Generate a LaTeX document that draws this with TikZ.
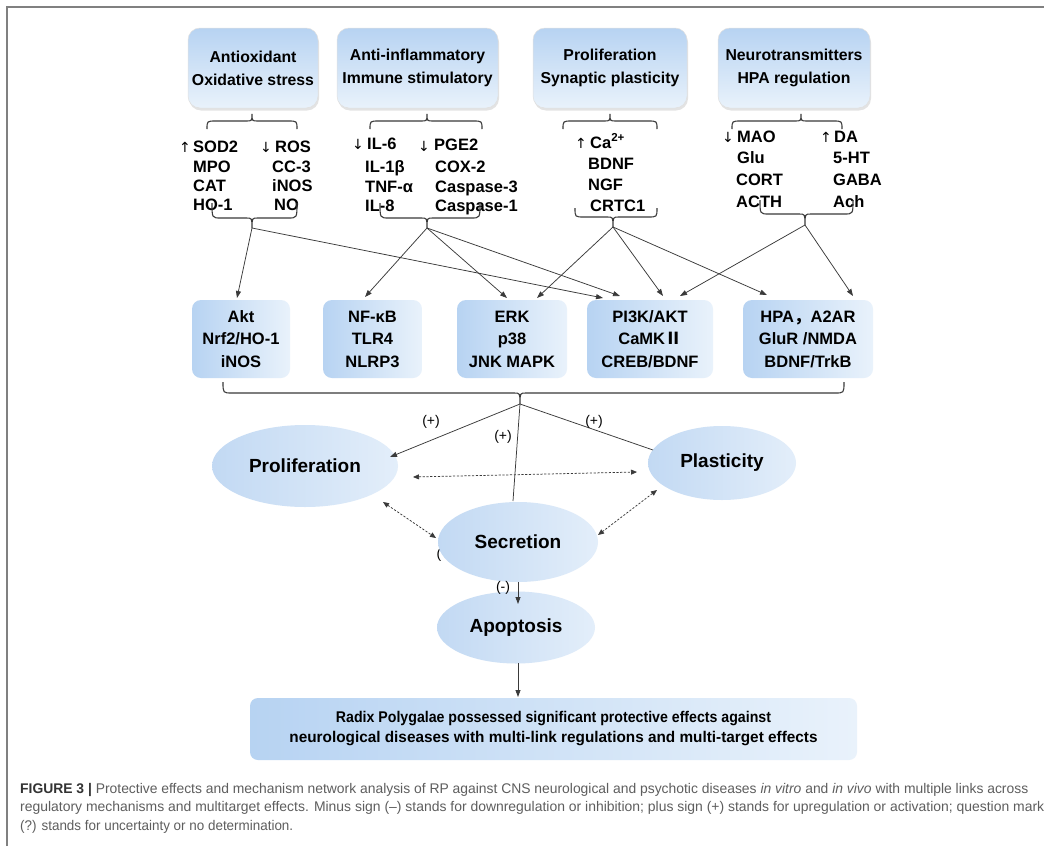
\documentclass[tikz,border=0pt]{standalone}
\usepackage{fontspec}
\usepackage{graphicx}
\setmainfont{Liberation Sans}
\newfontfamily\cjk{Noto Sans CJK SC}
\newfontfamily\dvs{DejaVu Sans}
\usetikzlibrary{arrows.meta,shadows,shapes.geometric}
\definecolor{bxblue}{HTML}{B7D3F2}
\definecolor{bxpale}{HTML}{E9F2FB}
\definecolor{elblue}{HTML}{C2D9F3}
\definecolor{elpale}{HTML}{E3EEFA}
\definecolor{lnc}{HTML}{3A3A3A}
\definecolor{frc}{HTML}{808080}
\definecolor{capc}{HTML}{5E5E5E}
% brace: x1 x2 xtip yEnd yBar yTip
\newcommand\mybrace[6]{%
  \draw[brc] (#1,#4) .. controls (#1,#5) .. (#1+9,#5) -- (#3-6,#5)
     .. controls (#3,#5) .. (#3,#6) .. controls (#3,#5) .. (#3+6,#5)
     -- (#2-9,#5) .. controls (#2,#5) .. (#2,#4);}
\begin{document}
\begin{tikzpicture}[x=1pt,y=-1pt,
 topbox/.style={rounded corners=12pt,top color=bxblue,bottom color=bxpale,draw=black!12,line width=0.5pt,
   drop shadow={opacity=0.22,shadow xshift=1pt,shadow yshift=-2.5pt},
   minimum height=80pt,inner sep=0pt,align=center,font=\fontsize{15.8}{23}\selectfont\bfseries},
 midbox/.style={rounded corners=9pt,left color=bxblue,right color=bxpale,draw=none,
   minimum height=78pt,inner sep=0pt,align=center,font=\fontsize{16.5}{22.5}\selectfont\bfseries},
 botbox/.style={rounded corners=8pt,left color=bxblue,right color=bxpale,draw=none,
   minimum width=607pt,minimum height=62pt,inner sep=0pt,align=center,font=\fontsize{15.5}{20}\selectfont\bfseries},
 ell/.style={ellipse,left color=elblue,right color=elpale,draw=none,inner sep=0pt,font=\fontsize{19}{23}\selectfont\bfseries},
 lst/.style={inner sep=0pt,anchor=base west,font=\fontsize{16.5}{19}\selectfont\bfseries},
 updn/.style={inner sep=0pt,anchor=base,font=\dvs\fontsize{14}{19}\selectfont},
 brc/.style={draw=lnc,line width=1.1pt},
 arr/.style={draw=lnc,line width=0.75pt,-{Triangle[length=7pt,width=5pt]}},
 pln/.style={draw=lnc,line width=0.75pt},
 dsh/.style={draw=lnc,line width=0.75pt,dash pattern=on 2.2pt off 1.6pt,{Triangle[length=6pt,width=5pt]}-{Triangle[length=6pt,width=5pt]}},
 sgn/.style={inner sep=0pt,font=\fontsize{14}{16}\selectfont},
 captxt/.style={inner sep=0pt,anchor=base west,font=\fontsize{14}{15}\selectfont,text=capc},
]
\useasboundingbox[fill=white] (0,0) rectangle (1044,846);
\draw[frc,line width=1.5pt] (7,846) -- (7,7) -- (1044,7);

% top boxes
\node[topbox,minimum width=130pt] (t1) at (253,68) {Antioxidant\\Oxidative stress};
\node[topbox,minimum width=161pt] (t2) at (417.5,68) {Anti-inflammatory\\Immune stimulatory};
\node[topbox,minimum width=154pt] (t3) at (610,68) {Proliferation\\Synaptic plasticity};
\node[topbox,minimum width=152pt] (t4) at (794,68) {Neurotransmitters\\HPA regulation};

% braces under top boxes
\mybrace{207}{297}{252}{129}{121}{114}
\mybrace{370}{482}{427}{129}{121}{114}
\mybrace{563}{657}{610}{129}{121}{114}
\mybrace{732}{842}{801}{129}{121}{114}

% column 1
\node[updn] (a1) at (185,152) {↑};
\node[lst] (l11) at (193,152) {SOD2};
\node[lst] (l12) at (193,172) {MPO};
\node[lst] (l13) at (193,191.5) {CAT};
\node[lst] (l14) at (193,210) {HO-1};
\node[updn] (a2) at (266,152) {↓};
\node[lst] (l15) at (275,152) {ROS};
\node[lst] (l16) at (272,172) {CC-3};
\node[lst] (l17) at (272,191.5) {iNOS};
\node[lst] (l18) at (274,210) {NO};
% column 2
\node[updn] (a3) at (358,149) {↓};
\node[lst] (l21) at (367,149) {IL-6};
\node[lst] (l22) at (365,172) {IL-1β};
\node[lst] (l23) at (365,192) {TNF-α};
\node[lst] (l24) at (365,211.5) {IL-8};
\node[updn] (a4) at (424,151) {↓};
\node[lst] (l25) at (434,150) {PGE2};
\node[lst] (l26) at (435,172) {COX-2};
\node[lst] (l27) at (435,192) {Caspase-3};
\node[lst] (l28) at (435,211.5) {Caspase-1};
% column 3
\node[updn] (a5) at (581,148) {↑};
\node[lst] (l31) at (590,148) {Ca\textsuperscript{2+}};
\node[lst] (l32) at (588,169) {BDNF};
\node[lst] (l33) at (588,190) {NGF};
\node[lst] (l34) at (590,211.5) {CRTC1};
% column 4
\node[updn] (a6) at (728,142) {↓};
\node[lst] (l41) at (737,142) {MAO};
\node[lst] (l42) at (737,163) {Glu};
\node[lst] (l43) at (736,185) {CORT};
\node[lst] (l44) at (736,207) {ACTH};
\node[updn] (a7) at (826,142) {↑};
\node[lst] (l45) at (834,142) {DA};
\node[lst] (l46) at (833,163) {5-HT};
\node[lst] (l47) at (833,185) {GABA};
\node[lst] (l48) at (833,207) {Ach};

% braces under lists
\mybrace{212}{297}{252}{203}{218}{228}
\mybrace{380}{480}{427}{203}{218}{228}
\mybrace{575}{657}{613}{208}{217}{227}
\mybrace{760}{853}{805}{200}{214}{225}
\coordinate (T1) at (252,228);
\coordinate (T2) at (427,228);
\coordinate (T3) at (613,227);
\coordinate (T4) at (805,225);

% middle boxes
\node[midbox,minimum width=98pt] (m1) at (241,339) {Akt\\Nrf2/HO-1\\iNOS};
\node[midbox,minimum width=99pt] (m2) at (372.5,339) {NF-κB\\TLR4\\NLRP3};
\node[midbox,minimum width=110pt] (m3) at (512,339) {ERK\\p38\\JNK MAPK};
\node[midbox,minimum width=126pt] (m4) at (650,339) {PI3K/AKT\\CaMK{\cjk Ⅱ}\\CREB/BDNF};
\node[midbox,minimum width=130pt] (m5) at (808,339) {HPA{\cjk ，}A2AR\\GluR /NMDA\\BDNF/TrkB};

\coordinate (e11) at (237,298);
\coordinate (e14) at (603,298);
\coordinate (e22) at (365,297);
\coordinate (e23) at (507,298);
\coordinate (e24) at (620,296);
\coordinate (e33) at (537,298);
\coordinate (e34) at (663,296);
\coordinate (e35) at (767,295);
\coordinate (e44) at (680,296);
\coordinate (e45) at (853,296);
\draw[arr] (T1) -- (e11);
\draw[arr] (T1) -- (e14);
\draw[arr] (T2) -- (e22);
\draw[arr] (T2) -- (e23);
\draw[arr] (T2) -- (e24);
\draw[arr] (T3) -- (e33);
\draw[arr] (T3) -- (e34);
\draw[arr] (T3) -- (e35);
\draw[arr] (T4) -- (e44);
\draw[arr] (T4) -- (e45);

% big brace
\mybrace{223}{844}{520}{382}{393}{404}
\coordinate (BT) at (520,404);

% ellipses
\node[ell,minimum width=186pt,minimum height=82pt] (pro) at (305,466) {Proliferation};
\node[ell,minimum width=148pt,minimum height=74pt] (pla) at (722,463) {Plasticity};
\node[sgn] (qm) at (439,555) {(};
\node[ell,minimum width=160pt,minimum height=80pt] (sec) at (518,542) {Secretion};
\node[ell,minimum width=158pt,minimum height=72pt] (apo) at (516,627.5) {Apoptosis};

\coordinate (pe) at (390,457);
\coordinate (se) at (513,501);
\coordinate (le) at (653,450);
\draw[arr] (BT) -- (pe);
\draw[pln] (BT) -- (se);
\draw[pln] (BT) -- (le);
\node[sgn] (s1) at (431,422) {(+)};
\node[sgn] (s2) at (503,437) {(+)};
\node[sgn] (s3) at (594,422) {(+)};

\coordinate (d1a) at (413,477);
\coordinate (d1b) at (637,472);
\coordinate (d2a) at (383,502);
\coordinate (d2b) at (436,538);
\coordinate (d3a) at (657,490);
\coordinate (d3b) at (598,535);
\draw[dsh] (d1a) -- (d1b);
\draw[dsh] (d2a) -- (d2b);
\draw[dsh] (d3a) -- (d3b);

\coordinate (sa) at (518,582);
\coordinate (sb) at (518,604);
\draw[arr] (sa) -- (sb);
\node[sgn] (s4) at (503,588) {(-)};

% bottom box
\node[botbox] (bb) at (553.5,729) {\resizebox{435pt}{\height}{Radix Polygalae possessed significant protective effects against}\\\resizebox{528pt}{\height}{neurological diseases with multi-link regulations and multi-target effects}};
\coordinate (ab) at (518,663);
\coordinate (bt) at (518,697);
\draw[arr] (ab) -- (bt);

% caption
\node[captxt] (c1) at (20,793) {\resizebox{1008pt}{\height}{\textbf{\color{black!80}FIGURE 3 |} Protective effects and mechanism network analysis of RP against CNS neurological and psychotic diseases \textit{in vitro} and \textit{in vivo} with multiple links across}};
\node[captxt] (c2) at (20,811.5) {\resizebox{1024pt}{\height}{regulatory mechanisms and multitarget effects. Minus sign (–) stands for downregulation or inhibition; plus sign (+) stands for upregulation or activation; question mark}};
\node[captxt] (c3) at (20,830) {\resizebox{273pt}{\height}{(?) stands for uncertainty or no determination.}};
\end{tikzpicture}
\end{document}
